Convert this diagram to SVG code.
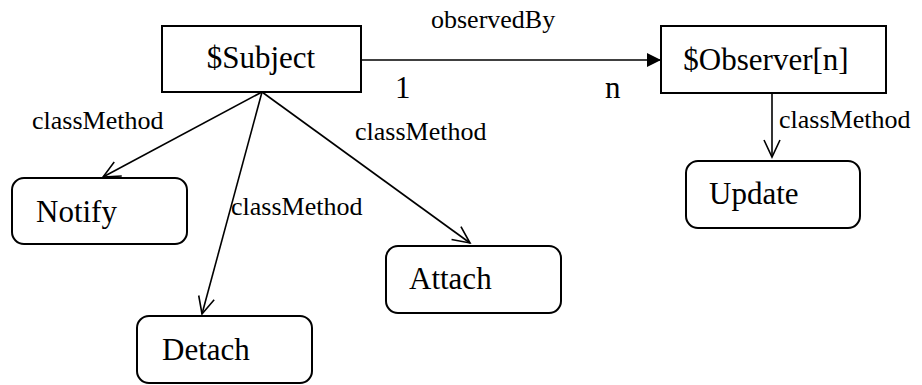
<svg xmlns="http://www.w3.org/2000/svg" width="922" height="385" viewBox="0 0 922 385">
<style>
.box{fill:#fff;stroke:#000;stroke-width:2}
.nt{font-family:"Liberation Serif","Times New Roman",serif;font-size:31px;fill:#000}
.lb{font-family:"Liberation Serif","Times New Roman",serif;font-size:26px;fill:#000}
.ln{fill:none;stroke:#000;stroke-width:1.6}
</style>
<defs>
<marker id="open" markerUnits="userSpaceOnUse" markerWidth="24" markerHeight="24" refX="18" refY="10" orient="auto" viewBox="0 0 24 20">
<path d="M1,2 L18,10 L1,18" fill="none" stroke="#000" stroke-width="1.6"/>
</marker>
<marker id="fill" markerUnits="userSpaceOnUse" markerWidth="16" markerHeight="16" refX="14" refY="7" orient="auto" viewBox="0 0 16 14">
<path d="M0,0 L14,7 L0,14 Z" fill="#000"/>
</marker>
</defs>
<g id="connectors">
<line class="ln" x1="361" y1="60" x2="661" y2="60" marker-end="url(#fill)"/>
<text class="lb" x="431" y="28">observedBy</text>
<text class="nt" x="395" y="98">1</text>
<text class="nt" x="605" y="98">n</text>
<line class="ln" x1="262" y1="92" x2="103" y2="177" marker-end="url(#open)"/>
<text class="lb" x="32" y="129">classMethod</text>
<line class="ln" x1="262" y1="92" x2="202" y2="314" marker-end="url(#open)"/>
<text class="lb" x="231" y="215">classMethod</text>
<line class="ln" x1="262" y1="92" x2="470" y2="243" marker-end="url(#open)"/>
<text class="lb" x="355" y="140">classMethod</text>
<line class="ln" x1="772" y1="93" x2="772" y2="157" marker-end="url(#open)"/>
<text class="lb" x="779" y="128">classMethod</text>
</g>
<g id="subject">
<rect class="box" x="162" y="26" width="199" height="66"/>
<text class="nt" x="261" y="68" text-anchor="middle">$Subject</text>
</g>
<g id="observer">
<rect class="box" x="661" y="26" width="225" height="67"/>
<text class="nt" x="766" y="70" text-anchor="middle">$Observer[n]</text>
</g>
<g id="notify">
<rect class="box" x="12" y="178" width="175" height="66" rx="12"/>
<text class="nt" x="36" y="222">Notify</text>
</g>
<g id="detach">
<rect class="box" x="137" y="316" width="175" height="67" rx="12"/>
<text class="nt" x="162" y="360">Detach</text>
</g>
<g id="attach">
<rect class="box" x="386" y="246" width="175" height="67" rx="12"/>
<text class="nt" x="409" y="289">Attach</text>
</g>
<g id="update">
<rect class="box" x="686" y="161" width="174" height="67" rx="12"/>
<text class="nt" x="709" y="204">Update</text>
</g>
</svg>
